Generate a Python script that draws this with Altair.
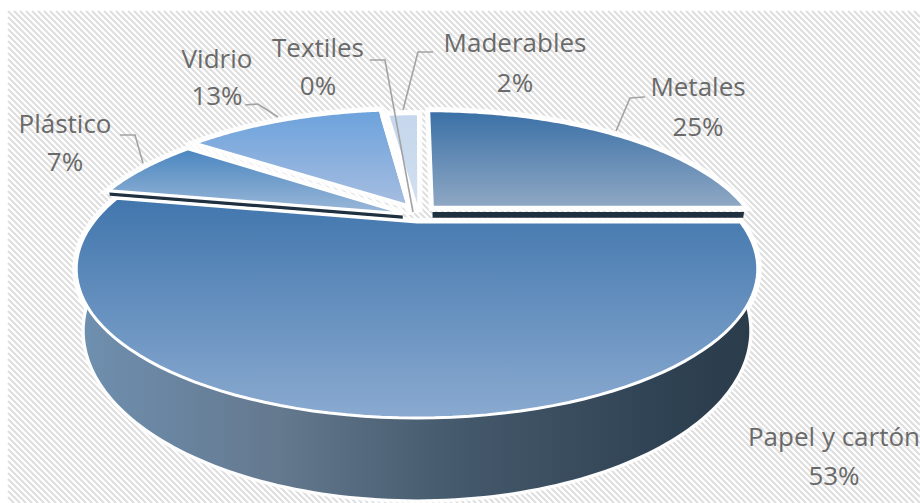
import numpy as np
import altair as alt

# Waste composition shares, clockwise from twelve o'clock
categories = ["Metales", "Papel y cartón", "Plástico", "Vidrio", "Textiles", "Maderables"]
shares = [25, 53, 7, 13, 0, 2]

# Explosion of each slice on the pie's plane (unit-radius coordinates)
offset_u = [0.05, 0.0, -0.045, -0.03, -0.02, 0.005]
offset_v = [0.07, -0.045, 0.02, 0.085, 0.01, 0.03]

# Top-surface gradients, upper colour to lower colour
surface_top = ["#3a70a6", "#4176ad", "#4a86c0", "#6ca2dc", "#ffffff", "#c5d7ec"]
surface_bottom = ["#8fa8c4", "#8aaad0", "#9bb8d8", "#a6bde0", "#ffffff", "#d2e0f0"]

# Where the two lines of each data label sit
label_x = [698, 834, 65, 217, 318, 515]
label_y = [88, 438, 125, 60, 49, 44]
value_y = [128, 477, 163, 97, 87, 84]

# Leader lines, one polyline per label
leaders = [
    [[645, 97], [630, 98], [616, 131]],
    [[120, 135], [135, 135], [143, 163]],
    [[245, 105], [258, 104], [278, 117]],
    [[370, 60], [385, 60], [413, 212]],
    [[433, 52], [418, 52], [403, 110]],
]

# Perspective camera of the pie
CX, CY = 417, 216
A, B = 319, 130.7
P = 0.31
DEPTH = 55
NARROWING = 0.025
PANEL = (8, 11, 920, 503)


def project(u, v, drop=0):
    w = 1 + P * v
    shrink = 1 - NARROWING * drop / DEPTH
    return [float(CX + A * shrink * u / w), float(CY - (B * v - drop) / w)]


def rim(i, t, drop=0):
    return project(offset_u[i] + np.sin(t), offset_v[i] + np.cos(t), drop)


def apex(i, drop=0):
    return project(offset_u[i], offset_v[i], drop)


def feature(kind, coords):
    return {"type": "Feature", "properties": {}, "geometry": {"type": kind, "coordinates": coords}}


edges = np.radians(np.concatenate([[0], np.cumsum(shares)]) * 3.6)


def top_ring(i):
    ts = np.linspace(edges[i], edges[i + 1], 90)
    pts = [apex(i)] + [rim(i, t) for t in ts]
    return pts + [pts[0]]


def vertical(top, bottom):
    return alt.Gradient(
        gradient="linear", x1=0, y1=0, x2=0, y2=1,
        stops=[alt.GradientStop(offset=0, color=top), alt.GradientStop(offset=1, color=bottom)],
    )


def shape(geom, **style):
    return alt.Chart(alt.Data(values=[geom])).mark_geoshape(**style)


# Diagonal hatching of the panel, clipped to its rectangle
x0, y0, x1, y1 = PANEL
hatch = []
for c in np.arange(y0 - x1, y1 - x0, 6.0):
    ax = max(x0, y0 - c)
    bx = min(x1, y1 - c)
    if bx > ax:
        hatch.append([[float(ax), float(ax + c)], [float(bx), float(bx + c)]])
layers = [shape(feature("MultiLineString", hatch), filled=False, stroke="#dedede", strokeWidth=2)]

# Side wall of the large slice: front rim of the top plane joined to the lower plane
PAPEL = categories.index("Papel y cartón")
wall_t = np.linspace(edges[PAPEL], edges[PAPEL + 1], 160)
wall = [rim(PAPEL, t) for t in wall_t] + [rim(PAPEL, t, DEPTH) for t in wall_t[::-1]]
wall.append(wall[0])
wall_fill = alt.Gradient(
    gradient="linear", x1=0, y1=0, x2=1, y2=0,
    stops=[
        alt.GradientStop(offset=0, color="#6f90b0"),
        alt.GradientStop(offset=0.3, color="#64788e"),
        alt.GradientStop(offset=0.55, color="#465a6d"),
        alt.GradientStop(offset=0.85, color="#2f4354"),
        alt.GradientStop(offset=1, color="#2b3b4a"),
    ],
)

# White halo around the whole pie
for i in range(len(shares)):
    layers.append(shape(feature("Polygon", [top_ring(i)]), fill="white", stroke="white", strokeWidth=8, strokeOpacity=0.85))
layers.append(shape(feature("Polygon", [wall]), fill="white", stroke="white", strokeWidth=7, strokeOpacity=0.85))

# Back slices first, the large front slice last
for i in [5, 3, 2, 0]:
    layers.append(shape(feature("Polygon", [top_ring(i)]),
                        fill=vertical(surface_top[i], surface_bottom[i]), stroke="white", strokeWidth=2.5))

# Thin dark cut faces seen through the gaps around the front slice
for i, t, upper, lower in [(0, edges[1], 5, 11), (2, edges[2], 2, 5.5)]:
    face = [apex(i, upper), rim(i, t, upper), rim(i, t, lower), apex(i, lower), apex(i, upper)]
    layers.append(shape(feature("Polygon", [face]), fill="#1f3040"))

i = categories.index("Textiles")
layers.append(shape(feature("Polygon", [top_ring(i)]), fill="white", stroke="white", strokeWidth=3))
layers.append(shape(feature("Polygon", [wall]), fill=wall_fill))
layers.append(shape(feature("Polygon", [top_ring(PAPEL)]),
                    fill=vertical(surface_top[PAPEL], surface_bottom[PAPEL]), stroke="white", strokeWidth=3))

layers.append(shape(feature("MultiLineString", leaders), filled=False, stroke="#a3a3a3", strokeWidth=1.6))

# Data labels: name on the first line, share on the second
rows = []
for name, share, lx, ly, vy in zip(categories, shares, label_x, label_y, value_y):
    rows.append({"text": name, "px": lx, "py": ly})
    rows.append({"text": f"{share}%", "px": lx, "py": vy})
labels = alt.Chart(alt.Data(values=rows)).mark_text(
    font="Open Sans", fontSize=26, color="#6a6a6a", align="center", baseline="middle"
).encode(longitude="px:Q", latitude="py:Q", text="text:N")
layers.append(labels)

chart = (
    alt.layer(*layers)
    .project(type="identity", scale=1, translate=[0, 0])
    .properties(width=920, height=503, padding=0, background="white", autosize=alt.AutoSizeParams(type="none"))
    .configure_view(stroke=None)
)
chart.save("out.html", embed_options={"renderer": "svg", "actions": False})
